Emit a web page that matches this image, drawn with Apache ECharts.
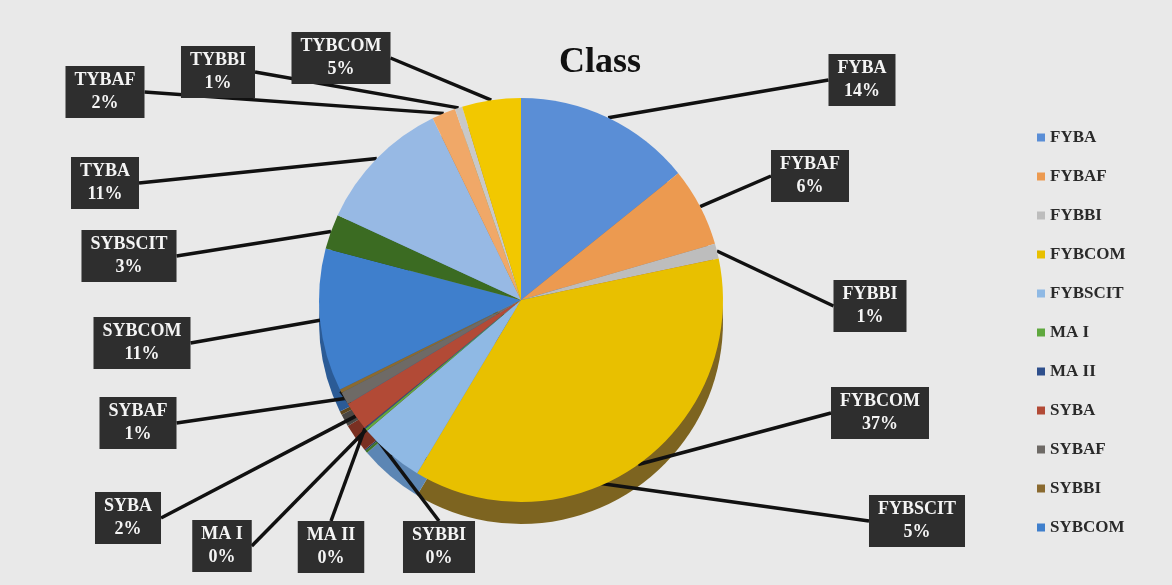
<!DOCTYPE html>
<html>
<head>
<meta charset="utf-8">
<script src="https://cdn.jsdelivr.net/npm/echarts@6/dist/echarts.min.js"></script>
<style>
  html, body { margin: 0; padding: 0; background: #e4e4e4; }
  #main { width: 1172px; height: 585px; }
</style>
</head>
<body>
<div id="main"></div>
<script>
// slice names, clockwise from 12 o'clock
const classes = ['FYBA', 'FYBAF', 'FYBBI', 'FYBCOM', 'FYBSCIT', 'MA I', 'MA II', 'SYBA',
  'SYBAF', 'SYBBI', 'SYBCOM', 'SYBSCIT', 'TYBA', 'TYBAF', 'TYBBI', 'TYBCOM'];
// share of students (percent, estimated from the slices)
const shares = [14.2, 6.3, 1.2, 36.9, 5.2, 0.2, 0.1, 2.3, 1.0, 0.3, 11.4, 2.8, 10.9, 1.9, 0.6, 4.7];
// legend only shows the first eleven entries
const legendNames = classes.slice(0, 11);

const topColors = ['#5a8ed6', '#ec9a50', '#bdbdbd', '#e8c000', '#8fb9e4', '#5fa83e', '#2e4f8c',
  '#b24a36', '#6e6a66', '#8a6a30', '#3f7fcc', '#3b6b22', '#97b9e4', '#f0a868', '#c8c8c8', '#f2c800'];
const sideColors = ['#3f6aa6', '#b06a2c', '#8a8a8a', '#7d6420', '#5c86b4', '#3f7528', '#1d355f',
  '#7a3022', '#4a4744', '#5e471f', '#2b5b96', '#284a17', '#6a8cba', '#b27840', '#949494', '#a68a10'];

// where each label box sits
const labelSpots = {
  'FYBA': [862, 80], 'FYBAF': [810, 176], 'FYBBI': [870, 306], 'FYBCOM': [880, 413],
  'FYBSCIT': [917, 521], 'MA I': [222, 546], 'MA II': [331, 547], 'SYBA': [128, 518],
  'SYBAF': [138, 423], 'SYBBI': [439, 547], 'SYBCOM': [142, 343], 'SYBSCIT': [129, 256],
  'TYBA': [105, 183], 'TYBAF': [105, 92], 'TYBBI': [218, 72], 'TYBCOM': [341, 58]
};

const total = shares.reduce((a, b) => a + b, 0);

const chart = echarts.init(document.getElementById('main'));

const option = {
  backgroundColor: '#e9e9e9',
  title: {
    text: 'Class',
    left: 595,
    top: 40,
    textAlign: 'center',
    textStyle: {
      fontFamily: 'Liberation Serif',
      fontWeight: 'bold',
      fontSize: 36,
      color: '#111'
    }
  },
  legend: {
    orient: 'vertical',
    left: 1032,
    top: 124,
    data: legendNames,
    icon: 'rect',
    itemWidth: 8,
    itemHeight: 8,
    itemGap: 22,
    textStyle: {
      fontFamily: 'Liberation Serif',
      fontWeight: 'bold',
      fontSize: 17,
      color: '#2a2a2a'
    }
  },
  series: [
    {
      type: 'pie',
      center: [521, 300],
      radius: 202,
      startAngle: 90,
      clockwise: true,
      z: 2,
      data: classes.map((name, i) => ({
        name: name,
        value: shares[i],
        itemStyle: {color: topColors[i]}
      })),
      label: {
        show: true,
        formatter: p => p.name + '\n' + Math.round(p.value / total * 100) + '%',
        backgroundColor: '#2e2e2e',
        color: '#f4f4f4',
        fontFamily: 'Liberation Serif',
        fontWeight: 'bold',
        fontSize: 18,
        lineHeight: 23,
        align: 'center',
        padding: [3, 9]
      },
      labelLine: {
        show: true,
        length: 0,
        length2: 0,
        lineStyle: {color: '#111', width: 3.5}
      },
      labelLayout: function (params) {
        const spot = labelSpots[classes[params.dataIndex]];
        return {
          x: spot[0],
          y: spot[1],
          align: 'center',
          verticalAlign: 'middle'
        };
      }
    },
    {
      // side of the tilted pie
      type: 'pie',
      silent: true,
      center: [521, 322],
      radius: 202,
      startAngle: 90,
      clockwise: true,
      z: 1,
      label: {show: false},
      labelLine: {show: false},
      data: classes.map((name, i) => ({
        name: name,
        value: shares[i],
        itemStyle: {color: sideColors[i]}
      }))
    }
  ]
};

chart.setOption(option);
</script>
</body>
</html>
